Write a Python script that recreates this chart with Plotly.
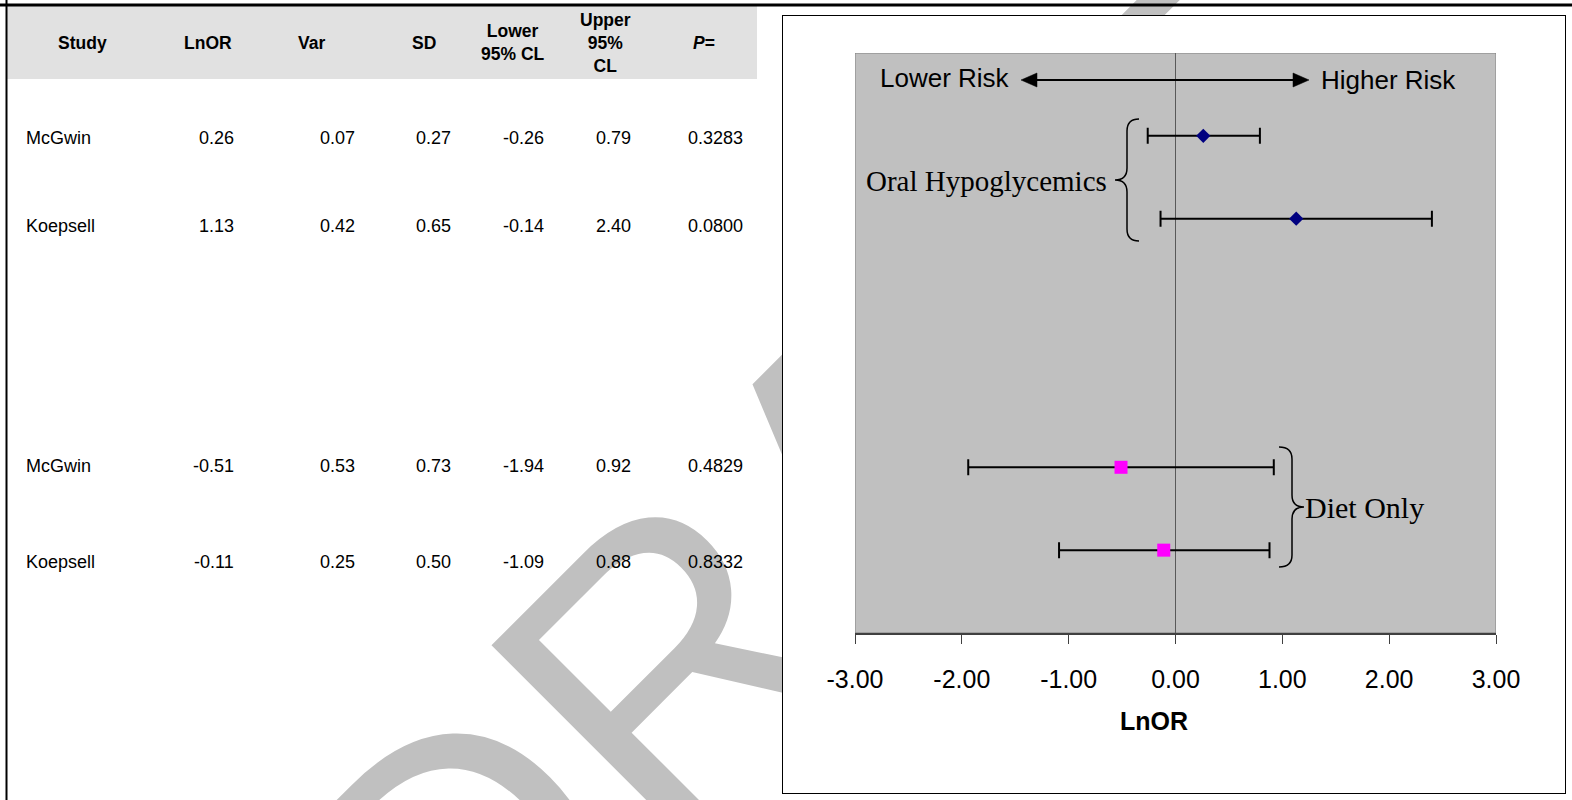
import plotly.graph_objects as go

W, H = 1572, 800

# ---------------- data ----------------
studies = ["McGwin", "Koepsell", "McGwin", "Koepsell"]
groups = ["Oral Hypoglycemics", "Oral Hypoglycemics", "Diet Only", "Diet Only"]
lnor = [0.26, 1.13, -0.51, -0.11]
var = [0.07, 0.42, 0.53, 0.25]
sd = [0.27, 0.65, 0.73, 0.50]
lower_cl = [-0.26, -0.14, -1.94, -1.09]
upper_cl = [0.79, 2.40, 0.92, 0.88]
p_values = [0.3283, 0.0800, 0.4829, 0.8332]
plot_pos = [6, 5, 2, 1]           # vertical positions in the forest plot
y_range = [0, 7]
x_ticks = [-3, -2, -1, 0, 1, 2, 3]
x_ticktext = [f"{v:.2f}" for v in x_ticks]
headers = ["Study", "LnOR", "Var", "SD", "Lower<br>95% CL", "Upper<br>95%<br>CL", "<i>P</i>="]
watermark = "DRAFT"

# ---------------- layout constants (pixels) ----------------
TABLE_FONT = "Liberation Sans, Arial, sans-serif"
SANS = "Liberation Sans, Arial, sans-serif"
SERIF = "Liberation Serif, Times New Roman, serif"

table_row_y = [138, 226, 466, 562]
header_y = 43
header_x = [82, 208, 311, 424, 513, 605, 704]
study_x = 24
col_right = [236, 357, 453, 546, 633, 745]

WM_X, WM_Y, WM_ANGLE, WM_SIZE = 832, 498, -45, 400


def fx(p):
    return p / W


def fy(p):
    return 1 - p / H


fig = go.Figure()

# watermark (subplot 1, whole page, pixel coordinates)
fig.add_trace(go.Bar(
    x=[WM_X], y=[200], base=[WM_Y - 100], width=[300], xaxis="x", yaxis="y",
    text=[watermark], textposition="inside", insidetextanchor="middle",
    textangle=WM_ANGLE, constraintext="none", cliponaxis=False,
    insidetextfont=dict(family=SANS, size=WM_SIZE, color="#c0c0c0"),
    textfont=dict(family=SANS, size=WM_SIZE, color="#c0c0c0"),
    marker=dict(color="rgba(0,0,0,0)", line=dict(width=0)),
    hoverinfo="skip", showlegend=False))

# chart box (subplot 2) - empty
fig.add_trace(go.Scatter(x=[None], y=[None], xaxis="x2", yaxis="y2",
                         showlegend=False, hoverinfo="skip"))

# forest plot (subplot 3)
err_plus = [u - m for u, m in zip(upper_cl, lnor)]
err_minus = [m - l for m, l in zip(lnor, lower_cl)]

oral = [i for i, g in enumerate(groups) if g == "Oral Hypoglycemics"]
diet = [i for i, g in enumerate(groups) if g == "Diet Only"]

for idx, sym, col, size in [(oral, "diamond", "#000080", 11), (diet, "square", "#ff00ff", 13)]:
    fig.add_trace(go.Scatter(
        x=[lnor[i] for i in idx], y=[plot_pos[i] for i in idx],
        xaxis="x3", yaxis="y3", mode="markers",
        marker=dict(symbol=sym, color=col, size=size, line=dict(width=0)),
        error_x=dict(type="data", symmetric=False,
                     array=[err_plus[i] for i in idx],
                     arrayminus=[err_minus[i] for i in idx],
                     color="black", thickness=2, width=8),
        showlegend=False, hoverinfo="skip"))

shapes = [
    # header band of the table
    dict(type="rect", xref="paper", yref="paper", x0=fx(7), x1=fx(757), y0=fy(79), y1=fy(6),
         fillcolor="#e1e1e1", line=dict(width=0), layer="below"),
    # gray plotting area
    dict(type="rect", xref="x3", yref="y3", x0=x_ticks[0], x1=x_ticks[-1], y0=y_range[0], y1=y_range[1],
         fillcolor="#c0c0c0", line=dict(color="#808080", width=1), layer="below"),
    # outer frame lines
    dict(type="line", xref="paper", yref="paper", x0=0, x1=1, y0=fy(5), y1=fy(5),
         line=dict(color="black", width=3), layer="above"),
    dict(type="line", xref="paper", yref="paper", x0=fx(6.5), x1=fx(6.5), y0=0, y1=1,
         line=dict(color="black", width=2), layer="above"),
    # double arrow
    dict(type="line", xref="paper", yref="paper", x0=fx(1034), x1=fx(1296), y0=fy(80), y1=fy(80),
         line=dict(color="black", width=2), layer="above"),
    dict(type="path", xref="paper", yref="paper",
         path=f"M {fx(1021)},{fy(80)} L {fx(1037)},{fy(73)} L {fx(1037)},{fy(87)} Z",
         fillcolor="black", line=dict(color="black", width=0.5), layer="above"),
    dict(type="path", xref="paper", yref="paper",
         path=f"M {fx(1309)},{fy(80)} L {fx(1293)},{fy(73)} L {fx(1293)},{fy(87)} Z",
         fillcolor="black", line=dict(color="black", width=0.5), layer="above"),
]


def brace(x_end, x_mid, x_tip, y0, y1):
    ym = (y0 + y1) / 2
    r = 12
    p = (f"M {fx(x_end)},{fy(y0)} Q {fx(x_mid)},{fy(y0)} {fx(x_mid)},{fy(y0 + r)} "
         f"L {fx(x_mid)},{fy(ym - r)} Q {fx(x_mid)},{fy(ym)} {fx(x_tip)},{fy(ym)} "
         f"Q {fx(x_mid)},{fy(ym)} {fx(x_mid)},{fy(ym + r)} "
         f"L {fx(x_mid)},{fy(y1 - r)} Q {fx(x_mid)},{fy(y1)} {fx(x_end)},{fy(y1)}")
    return dict(type="path", xref="paper", yref="paper", path=p,
                line=dict(color="black", width=1.5), layer="above")


shapes.append(brace(1139, 1127, 1115, 119, 241))
shapes.append(brace(1279, 1292, 1304, 447, 567))

annotations = []
# table header
for hx, htxt in zip(header_x, headers):
    annotations.append(dict(x=fx(hx), y=fy(header_y), xref="paper", yref="paper",
                            text=f"<b>{htxt}</b>", showarrow=False, xanchor="center", yanchor="middle",
                            font=dict(family=TABLE_FONT, size=17.5, color="black")))
# table rows
for r in range(len(studies)):
    ry = fy(table_row_y[r])
    annotations.append(dict(x=fx(study_x), y=ry, xref="paper", yref="paper", text=studies[r],
                            showarrow=False, xanchor="left", yanchor="middle",
                            font=dict(family=TABLE_FONT, size=18, color="black")))
    vals = [f"{lnor[r]:.2f}", f"{var[r]:.2f}", f"{sd[r]:.2f}", f"{lower_cl[r]:.2f}",
            f"{upper_cl[r]:.2f}", f"{p_values[r]:.4f}"]
    for cx, v in zip(col_right, vals):
        annotations.append(dict(x=fx(cx), y=ry, xref="paper", yref="paper", text=v,
                                showarrow=False, xanchor="right", yanchor="middle",
                                font=dict(family=TABLE_FONT, size=18, color="black")))

# chart labels
annotations += [
    dict(x=fx(878), y=fy(78), xref="paper", yref="paper", text="Lower Risk", showarrow=False,
         xanchor="left", yanchor="middle", font=dict(family=SANS, size=26, color="black")),
    dict(x=fx(1319), y=fy(80), xref="paper", yref="paper", text="Higher Risk", showarrow=False,
         xanchor="left", yanchor="middle", font=dict(family=SANS, size=26, color="black")),
    dict(x=fx(1109), y=fy(181), xref="paper", yref="paper", text="Oral Hypoglycemics", showarrow=False,
         xanchor="right", yanchor="middle", font=dict(family=SERIF, size=29, color="black")),
    dict(x=fx(1303), y=fy(507), xref="paper", yref="paper", text="Diet Only", showarrow=False,
         xanchor="left", yanchor="middle", font=dict(family=SERIF, size=30, color="black")),
    dict(x=fx(1154), y=fy(721), xref="paper", yref="paper", text="<b>LnOR</b>", showarrow=False,
         xanchor="center", yanchor="middle", font=dict(family=SANS, size=25, color="black")),
]

blank_axis = dict(showgrid=False, zeroline=False, showticklabels=False, ticks="", fixedrange=True,
                  automargin=False)

fig.update_layout(
    width=W, height=H, autosize=False,
    margin=dict(l=0, r=0, t=0, b=0, pad=0, autoexpand=False),
    paper_bgcolor="white", plot_bgcolor="white",
    showlegend=False, barmode="overlay",
    xaxis=dict(domain=[0, 1], range=[0, W], visible=False, fixedrange=True, anchor="y", automargin=False),
    yaxis=dict(domain=[0, 1], range=[H, 0], visible=False, fixedrange=True, anchor="x", automargin=False),
    xaxis2=dict(domain=[fx(783), fx(1565)], range=[0, 1], anchor="y2",
                showline=True, mirror=True, linecolor="black", linewidth=1, **blank_axis),
    yaxis2=dict(domain=[fy(793), fy(16)], range=[0, 1], anchor="x2",
                showline=True, mirror=True, linecolor="black", linewidth=1, **blank_axis),
    xaxis3=dict(domain=[fx(855), fx(1496)], range=[x_ticks[0], x_ticks[-1]], anchor="y3",
                tickvals=x_ticks, ticktext=x_ticktext, ticks="outside", ticklen=9,
                tickwidth=1, tickcolor="#404040", showline=True, linecolor="#404040", linewidth=2,
                showgrid=False, zeroline=True, zerolinecolor="#595959", zerolinewidth=1,
                tickfont=dict(family=SANS, size=25, color="black"), ticklabelstandoff=14,
                fixedrange=True, automargin=False),
    yaxis3=dict(domain=[fy(633), fy(53)], range=y_range, anchor="x3", visible=False,
                fixedrange=True, automargin=False),
    shapes=shapes,
    annotations=annotations,
)

fig.write_html("out.html")
